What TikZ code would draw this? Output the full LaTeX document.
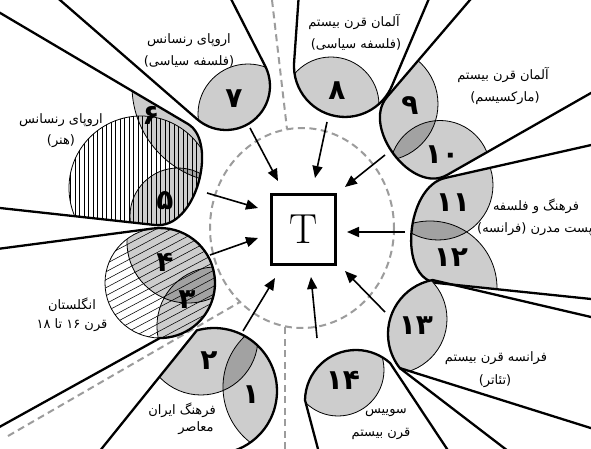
\documentclass[tikz,border=0pt]{standalone}
\usepackage{fontspec}
\usetikzlibrary{arrows.meta}
\newfontfamily\fa[Script=Arabic]{DejaVu Sans}
\TeXXeTstate=1
\definecolor{lgray}{HTML}{CDCDCD}
\definecolor{dgray}{HTML}{A2A2A2}
\definecolor{dashc}{HTML}{9C9C9C}
\def\tdSeven{(-104.8,-143.2) -- (197.1,119.2) arc[start angle=131, end angle=-27, radius=44] -- ++(243:400)}
\def\tdEight{(322,-336.6) -- (294.1,62.4) arc[start angle=184, end angle=23, radius=51] -- ++(293:400)}
\def\tdNine{(647,-207) -- (387,97) .. controls (361,127.4) and (412.2,194.8) .. (447,175) -- (794.6,-23)}
\def\tdEleven{(835,90) -- (445,178) .. controls (406,186.8) and (397.2,278.9) .. (437,283) -- (834.9,324.3)}
\def\tdThirteen{(908,391) -- (432.5,280) arc[start angle=259, end angle=141.7, radius=55] -- (972.8,548)}
\def\tdFourteen{(344,547) -- (305,400.1) arc[start angle=181, end angle=312, radius=51] -- (561,621)}
\def\tdOne{(-84.7,680.2) -- (196.85,330.4) arc[start angle=254.2, end angle=440, radius=63] -- (224.9,700)}
\def\tdThree{(-342.9,293.8) -- (152.8,228.5) arc[start angle=262.5, end angle=450, radius=55] -- (-284,584)}
\def\tdFive{(-342,170.5) -- (155,225) .. controls (196.7,229.6) and (218.1,141.8) .. (188,124) -- (-242.5,-130.5)}
\begin{document}
\begin{tikzpicture}[x=1pt,y=-1pt,
  outl/.style={line width=2.3pt,line join=round},
  thinc/.style={line width=0.8pt},
  hatchl/.style={line width=0.55pt},
  arr/.style={line width=1.6pt,-{Triangle[length=12pt,width=10pt]}},
  dsh/.style={dashc,line width=2pt,dash pattern=on 7pt off 4.5pt},
  lbl/.style={font=\fa\fontsize{13}{15}\selectfont,inner sep=0pt},
  num/.style={font=\fa\bfseries\fontsize{28}{28}\selectfont,inner sep=0pt}]
\useasboundingbox (0,0) rectangle (591,449);
\fill[white] (0,0) rectangle (591,449);
\clip (0,0) rectangle (591,449);
% dashed guides
\draw[dsh] (302,228) ellipse[x radius=92,y radius=100];
\draw[dsh] (272,0) -- (287,129);
\draw[dsh] (8,436) -- (240,302);
\draw[dsh] (285,449) -- (285,327);
% cluster 5/6
\begin{scope}
 \clip \tdFive -- cycle;
 \fill[lgray] (229,86) circle[radius=97];
 \fill[lgray] (178,216) circle[radius=48];
 \begin{scope}\clip (229,86) circle[radius=97]; \fill[dgray] (178,216) circle[radius=48];\end{scope}
 \begin{scope}\clip (141,188) circle[radius=72];
  \foreach \x in {66,70.5,...,215} \draw[hatchl] (\x,110) -- (\x,265);
 \end{scope}
 \draw[thinc] (141,188) circle[radius=72] (229,86) circle[radius=97] (178,216) circle[radius=48];
\end{scope}
\draw[outl] \tdFive;
% cluster 7
\begin{scope}\clip \tdSeven -- cycle;
 \fill[lgray] (248,114) circle[radius=50];
 \draw[thinc] (248,114) circle[radius=50];
\end{scope}
\draw[outl] \tdSeven;
% cluster 8
\begin{scope}\clip \tdEight -- cycle;
 \fill[lgray] (331,105) circle[radius=48];
 \draw[thinc] (331,105) circle[radius=48];
\end{scope}
\draw[outl] \tdEight;
% cluster 9/10
\begin{scope}\clip \tdNine -- cycle;
 \fill[lgray] (381,104) circle[radius=57] (440,171) circle[radius=50.5];
 \begin{scope}\clip (381,104) circle[radius=57]; \fill[dgray] (440,171) circle[radius=50.5];\end{scope}
 \draw[thinc] (381,104) circle[radius=57] (440,171) circle[radius=50.5];
\end{scope}
\draw[outl] \tdNine;
% cluster 11/12
\begin{scope}\clip \tdEleven -- cycle;
 \fill[lgray] (438,185) circle[radius=55] (430,288) circle[radius=67];
 \begin{scope}\clip (438,185) circle[radius=55]; \fill[dgray] (430,288) circle[radius=67];\end{scope}
 \draw[thinc] (438,185) circle[radius=55] (430,288) circle[radius=67];
\end{scope}
\draw[outl] \tdEleven;
% cluster 13
\begin{scope}\clip \tdThirteen -- cycle;
 \fill[lgray] (392,319) circle[radius=55];
 \draw[thinc] (392,319) circle[radius=55];
\end{scope}
\draw[outl] \tdThirteen;
\coordinate (c13end) at (399.8,368.1);
\coordinate (c13far) at (555,487);
\draw[outl] (c13end) -- (c13far);
% cluster 14
\begin{scope}\clip \tdFourteen -- cycle;
 \fill[lgray] (338,370) circle[radius=46];
 \draw[thinc] (338,370) circle[radius=46];
\end{scope}
\draw[outl] \tdFourteen;
% cluster 1/2
\begin{scope}\clip \tdOne -- cycle;
 \fill[lgray] (293,387) circle[radius=70] (201,338) circle[radius=57];
 \begin{scope}\clip (293,387) circle[radius=70]; \fill[dgray] (201,338) circle[radius=57];\end{scope}
 \draw[thinc] (293,387) circle[radius=70] (201,338) circle[radius=57];
\end{scope}
\draw[outl] \tdOne;
% cluster 3/4
\begin{scope}\clip (160,283) circle[radius=55];
 \fill[lgray] (188,242) circle[radius=61] (216,326) circle[radius=59];
 \begin{scope}\clip (188,242) circle[radius=61]; \fill[dgray] (216,326) circle[radius=59];\end{scope}
 \foreach \x in {-120,-105,...,140} \draw[hatchl] (\x,360) -- ++(-28:300);
 \draw[thinc] (188,242) circle[radius=61] (216,326) circle[radius=59];
\end{scope}
\draw[thinc] (160,283) circle[radius=55];
\draw[outl] \tdThree;
% central node and arrows
\node[draw,line width=3pt,minimum width=64pt,minimum height=70pt,inner sep=0pt,
      font=\fontsize{42}{42}\selectfont] (T) at (303.5,229.5) {T};
\coordinate (s7) at (250,128);  \coordinate (e7) at (278,181);
\coordinate (s8) at (327,122);  \coordinate (e8) at (315,178);
\coordinate (s9) at (385,155);  \coordinate (e9) at (345,187);
\coordinate (s11) at (405,232); \coordinate (e11) at (347,232);
\coordinate (s13) at (385,312); \coordinate (e13) at (345,271);
\coordinate (s14) at (317,338); \coordinate (e14) at (311,277);
\coordinate (s1) at (243,331);  \coordinate (e1) at (275,278);
\coordinate (s3) at (210,255);  \coordinate (e3) at (258,238);
\coordinate (s5) at (207,193);  \coordinate (e5) at (258,208);
\foreach \a in {7,8,9,11,13,14,1,3,5} \draw[arr] (s\a) -- (e\a);
% numbers
\node[num] (n1) at (251,395) {۱};
\node[num] (n2) at (209,361) {۲};
\node[num] (n3) at (187,300) {۳};
\node[num] (n4) at (165,262) {۴};
\node[num] (n5) at (165,201) {۵};
\node[num] (n6) at (151,115) {۶};
\node[num] (n7) at (234,99) {۷};
\node[num] (n8) at (337,91) {۸};
\node[num] (n9) at (410,106) {۹};
\node[num] (n10) at (442,155) {۱۰};
\node[num] (n11) at (453,203) {۱۱};
\node[num] (n12) at (451,258) {۱۲};
\node[num] (n13) at (416,326) {۱۳};
\node[num] (n14) at (343,380) {۱۴};
% labels
\node[lbl] (l7a) at (189,40) {\beginR اروپای رنسانس\endR};
\node[lbl] (l7b) at (189,62) {\beginR (فلسفه سیاسی)\endR};
\node[lbl] (l8a) at (354,22) {\beginR آلمان قرن بیستم\endR};
\node[lbl] (l8b) at (356,45) {\beginR (فلسفه سیاسی)\endR};
\node[lbl] (l9a) at (503,75) {\beginR آلمان قرن بیستم\endR};
\node[lbl] (l9b) at (505,98) {\beginR (مارکسیسم)\endR};
\node[lbl] (l11a) at (536,206) {\beginR فرهنگ و فلسفه\endR};
\node[lbl,anchor=west] (l11b) at (477,229) {\beginR پست مدرن (فرانسه)\endR};
\node[lbl] (l13a) at (496,358) {\beginR فرانسه قرن بیستم\endR};
\node[lbl] (l13b) at (495,381) {\beginR (تئاتر)\endR};
\node[lbl] (l14a) at (386,413) {\beginR سوییس\endR};
\node[lbl] (l14b) at (381,434) {\beginR قرن بیستم\endR};
\node[lbl] (l1a) at (182,410) {\beginR فرهنگ ایران\endR};
\node[lbl] (l1b) at (196,428) {\beginR معاصر\endR};
\node[lbl] (l3a) at (72,305) {\beginR انگلستان\endR};
\node[lbl] (l3b) at (72,325) {\beginR قرن \beginL ۱۶\endL{} تا \beginL ۱۸\endL\endR};
\node[lbl] (l5a) at (61,120) {\beginR اروپای رنسانس\endR};
\node[lbl] (l5b) at (61,141) {\beginR (هنر)\endR};
\end{tikzpicture}
\end{document}
